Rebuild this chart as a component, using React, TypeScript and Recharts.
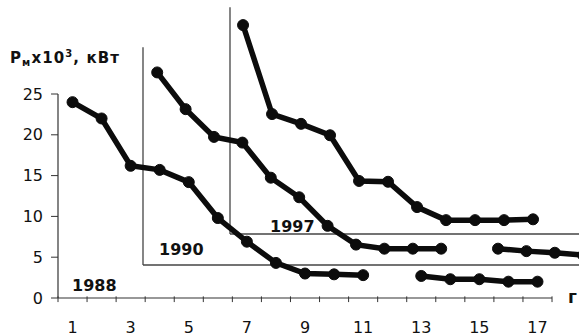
import { LineChart, Line, XAxis, YAxis, ReferenceLine } from 'recharts'

// positions along each chart's own time axis
const steps88 = [1, 2, 3, 4, 5, 6, 7, 8, 9, 10, 11, 12, 13, 14, 15, 16, 17]
const steps90 = [1, 2, 3, 4, 5, 6, 7, 8, 9, 10, 11, 12, 13, 14, 15, 16]
const steps97 = [1, 2, 3, 4, 5, 6, 7, 8, 9, 10, 11]

// Pм, x10^3 kW (each year read against its own frame)
const p1988 = [24, 22, 16.2, 15.7, 14.2, 9.8, 6.9, 4.3, 3.0, 2.9, 2.8, null, 2.7, 2.3, 2.3, 2.0, 2.0]
const p1990 = [23.6, 19.1, 15.7, 15.0, 10.7, 8.3, 4.8, 2.5, 2.0, 2.0, 2.0, null, 2.0, 1.7, 1.5, 1.2]
const p1997 = [25.6, 14.7, 13.5, 12.1, 6.5, 6.4, 3.3, 1.7, 1.7, 1.7, 1.8]

const xLabels = [1, 3, 5, 7, 9, 11, 13, 15, 17]
const yTicks = [0, 5, 10, 15, 20, 25]

const data88 = steps88.map((s, i) => ({ s, p: p1988[i] }))
const data90 = steps90.map((s, i) => ({ s, p: p1990[i] }))
const data97 = steps97.map((s, i) => ({ s, p: p1997[i] }))

// tick marks sit on the category borders, labels in the middle
const borderTicks = [...steps88.map((s) => s - 0.5), steps88[steps88.length - 1] + 0.5]

const W = 579
const H = 336
const CHART_W = 600 // a bit wider than the page so the 1990 line runs off the edge
const FONT = '"DejaVu Sans", sans-serif'
const INK = '#0c0c0c'
const AXIS = '#333'
const FRAME = '#444'

// plot box of the chart
const LEFT = 44
const TOP = 4
const BOTTOM = 306
const Y_UNIT = 8.16 // px per 1x10^3 kW, same in all three frames

// the three frames were pasted over each other with shifts, so each gets its own scale:
// value v sits at pixel px, with ppu pixels per step
const xDomain = (v: number, px: number, ppu: number): [number, number] => [v - (px - LEFT) / ppu, v + (CHART_W - px) / ppu]
const yDomain = (px0: number): [number, number] => [-(BOTTOM - px0) / Y_UNIT, (px0 - TOP) / Y_UNIT]

const X88 = xDomain(0.5, 58, 29.06)
const Y88 = yDomain(298)
const X90 = xDomain(0.5, 143, 28.4)
const Y90 = yDomain(265)
const X97 = xDomain(0.55, 230, 29)
const Y97 = yDomain(234)

const X_TICK_LEN = 0.5 // in y units
const Y_TICK_LEN = 0.24 // in x88 units

const lineProps = {
  type: 'linear' as const,
  dataKey: 'p',
  stroke: INK,
  strokeWidth: 5.5,
  dot: { r: 5.5, fill: INK, stroke: INK, strokeWidth: 1 },
  isAnimationActive: false,
  connectNulls: false,
}

const ref88 = { xAxisId: 'x88', yAxisId: 'y88', stroke: AXIS, strokeWidth: 1.2, ifOverflow: 'visible' as const }
const ref90 = { xAxisId: 'x90', yAxisId: 'y90', stroke: FRAME, strokeWidth: 1.3, ifOverflow: 'visible' as const }
const ref97 = { xAxisId: 'x97', yAxisId: 'y97', stroke: FRAME, strokeWidth: 1.3, ifOverflow: 'visible' as const }

export default function App() {
  return (
    <div style={{ position: 'absolute', left: 0, top: 0, width: W, height: H, background: '#fff', overflow: 'hidden' }}>
      <LineChart width={CHART_W} height={H} margin={{ top: TOP, right: 0, left: 0, bottom: 0 }}>
        {/* tick labels of the 1988 frame */}
        <XAxis
          xAxisId="lab"
          dataKey="s"
          type="number"
          domain={X88}
          allowDataOverflow
          ticks={xLabels}
          interval={0}
          height={H - BOTTOM}
          axisLine={false}
          tickLine={false}
          tickSize={0}
          tickMargin={16}
          tick={{ fontSize: 16, fontFamily: FONT, fill: '#111' }}
        />
        <YAxis
          yAxisId="lab"
          type="number"
          domain={Y88}
          allowDataOverflow
          ticks={yTicks}
          interval={0}
          width={LEFT}
          tickSize={0}
          tickMargin={1}
          axisLine={false}
          tickLine={false}
          tick={{ fontSize: 16, fontFamily: FONT, fill: '#111' }}
        />
        {/* scales of the three frames */}
        <XAxis xAxisId="x88" dataKey="s" type="number" domain={X88} allowDataOverflow hide height={0} />
        <YAxis yAxisId="y88" type="number" domain={Y88} allowDataOverflow hide width={0} />
        <XAxis xAxisId="x90" dataKey="s" type="number" domain={X90} allowDataOverflow hide height={0} />
        <YAxis yAxisId="y90" type="number" domain={Y90} allowDataOverflow hide width={0} />
        <XAxis xAxisId="x97" dataKey="s" type="number" domain={X97} allowDataOverflow hide height={0} />
        <YAxis yAxisId="y97" type="number" domain={Y97} allowDataOverflow hide width={0} />

        {/* 1988 axis lines and tick marks */}
        <ReferenceLine {...ref88} segment={[{ x: 0.5, y: 0 }, { x: 17.5, y: 0 }]} />
        <ReferenceLine {...ref88} segment={[{ x: 0.5, y: 0 }, { x: 0.5, y: 25 }]} />
        {borderTicks.map((b) => (
          <ReferenceLine key={`xt${b}`} {...ref88} strokeWidth={1} segment={[{ x: b, y: 0.2 }, { x: b, y: -X_TICK_LEN }]} />
        ))}
        {yTicks.map((v) => (
          <ReferenceLine key={`yt${v}`} {...ref88} strokeWidth={1} segment={[{ x: 0.5 - Y_TICK_LEN, y: v }, { x: 0.5, y: v }]} />
        ))}

        {/* frames of 1990 and 1997 */}
        <ReferenceLine {...ref90} segment={[{ x: 0.5, y: 0 }, { x: X90[1], y: 0 }]} />
        <ReferenceLine {...ref90} segment={[{ x: 0.5, y: 0 }, { x: 0.5, y: 26.7 }]} />
        <ReferenceLine {...ref97} segment={[{ x: 0.55, y: 0 }, { x: X97[1], y: 0 }]} />
        <ReferenceLine {...ref97} segment={[{ x: 0.55, y: 0 }, { x: 0.55, y: 27.8 }]} />

        <Line {...lineProps} data={data88} xAxisId="x88" yAxisId="y88" name="1988" />
        <Line {...lineProps} data={data90} xAxisId="x90" yAxisId="y90" name="1990" />
        <Line {...lineProps} data={data97} xAxisId="x97" yAxisId="y97" name="1997" />
      </LineChart>

      {/* captions */}
      <svg width={W} height={H} style={{ position: 'absolute', left: 0, top: 0, pointerEvents: 'none' }}>
        <g fontFamily={FONT} fontWeight="bold" fill="#111">
          <text x={10} y={63} fontSize={15} letterSpacing={1.1}>
            P
            <tspan fontSize={10} dy={3}>
              м
            </tspan>
            <tspan dy={-3}>x10</tspan>
            <tspan fontSize={10} dy={-6}>
              3
            </tspan>
            <tspan dy={6}>, кВт</tspan>
          </text>
          <text x={72} y={291} fontSize={16}>
            1988
          </text>
          <text x={159} y={255} fontSize={16}>
            1990
          </text>
          <text x={270} y={232} fontSize={16}>
            1997
          </text>
          <text x={568} y={303} fontSize={17}>
            г
          </text>
        </g>
      </svg>
    </div>
  )
}
